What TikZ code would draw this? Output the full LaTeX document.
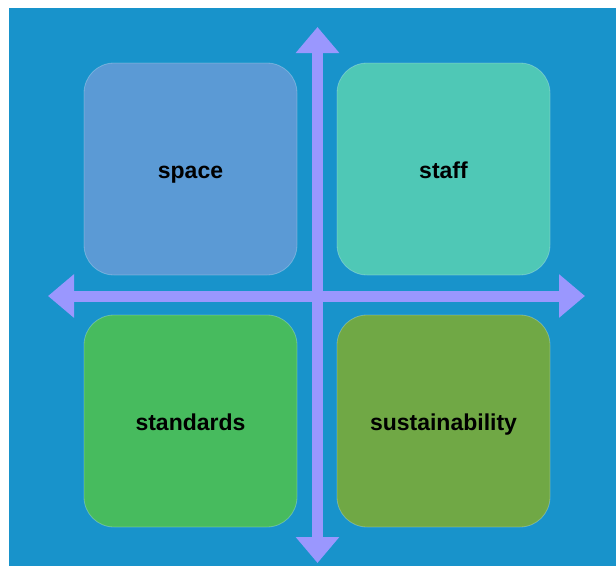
\documentclass[tikz,border=0pt]{standalone}
\usepackage{fontspec}
\setmainfont{Liberation Sans}
\usetikzlibrary{arrows.meta}
\definecolor{bgblue}{HTML}{1893CB}
\definecolor{axiscol}{HTML}{9A97FE}
\definecolor{spacecol}{HTML}{5B9AD5}
\definecolor{staffcol}{HTML}{4FC8B6}
\definecolor{standcol}{HTML}{47BB5E}
\definecolor{sustcol}{HTML}{70A845}
\tikzset{
  quad/.style={rectangle, rounded corners=30pt, minimum width=213pt,
    minimum height=212pt, draw=white, draw opacity=0.25, line width=0.8pt,
    inner sep=0pt, text=black, text height=20pt, text depth=2pt,
    font=\fontsize{23}{27}\selectfont\bfseries},
  axis/.style={draw=axiscol, line width=11pt,
    {Triangle[length=26pt,width=42pt]}-{Triangle[length=26pt,width=42pt]}}
}
\begin{document}
\begin{tikzpicture}[x=1pt,y=-1pt]
  \useasboundingbox (0,0) rectangle (616,566);
  \fill[white] (0,0) rectangle (616,566);
  \fill[bgblue] (9,8) rectangle (616,566);

  % four quadrants
  \node[quad, fill=spacecol] (space) at (190.5,169) {space};
  \node[quad, fill=staffcol] (staff) at (443.5,169) {staff};
  \node[quad, fill=standcol] (standards) at (190.5,421) {standards};
  \node[quad, fill=sustcol] (sustain) at (443.5,421) {sustainability};

  % axes
  \coordinate (top) at (317.5,27);
  \coordinate (bottom) at (317.5,563);
  \coordinate (left) at (48,296);
  \coordinate (right) at (585,296);
  \draw[axis] (left) -- (right);
  \draw[axis] (top) -- (bottom);
\end{tikzpicture}
\end{document}
